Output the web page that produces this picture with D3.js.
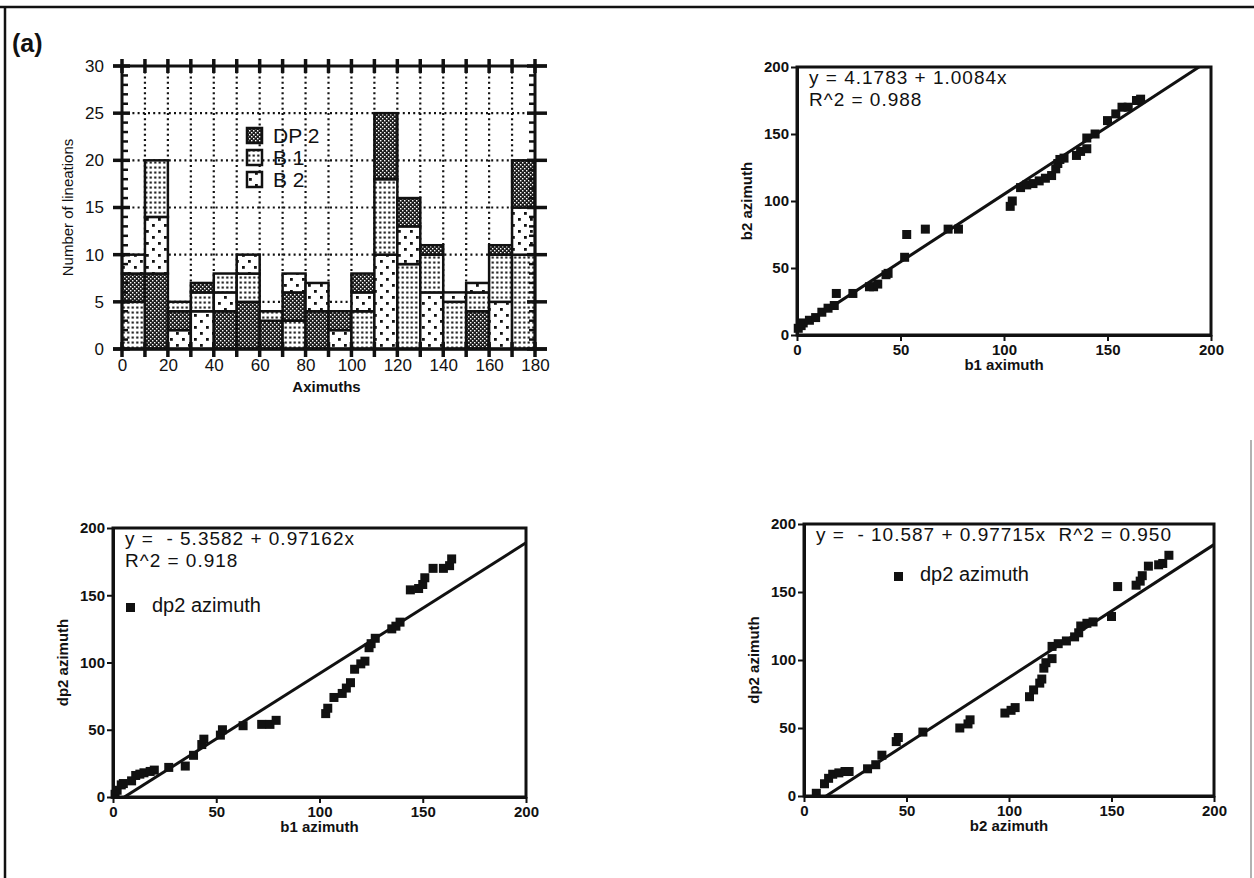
<!DOCTYPE html>
<html>
<head>
<meta charset="utf-8">
<script src="https://cdn.jsdelivr.net/npm/d3@7"></script>
<style>
  body { margin: 0; background: #fff; }
  svg { display: block; }
  text { font-family: "Liberation Sans", Arial, Helvetica, sans-serif; fill: #111; }
</style>
</head>
<body>
<svg id="fig" width="1254" height="878"></svg>
<script>
// ---- Histogram: lineation counts per 10-degree azimuth bin ----
const binStarts = [0, 10, 20, 30, 40, 50, 60, 70, 80, 90, 100, 110, 120, 130, 140, 150, 160, 170];
const dp2Counts = [3, 8, 2, 1, 4, 5, 3, 3, 4, 2, 2, 7, 3, 1, 0, 4, 1, 5];
const b1Counts  = [5, 6, 1, 2, 2, 3, 1, 3, 0, 0, 4, 8, 9, 4, 5, 2, 5, 10];
const b2Counts  = [2, 6, 2, 4, 2, 2, 0, 2, 3, 2, 2, 10, 4, 6, 1, 1, 5, 5];
const seriesNames = ["DP 2", "B 1", "B 2"];
const histXTicks = [0, 20, 40, 60, 80, 100, 120, 140, 160, 180];
const histYTicks = [0, 5, 10, 15, 20, 25, 30];

// ---- Scatter data: paired azimuths ----
const b1VsB2 = [[0.6,5],[2,7],[3,9],[6,11],[9,13],[12,17],[15,20],[18,22],[19,31],[27,31],[35,36],[37,36],[39,38],[43,45],[44,46],[52,58],[53,75],[62,79],[73,79],[78,79],[103,96],[104,100],[108,110],[111,112],[114,113],[117,115],[120,117],[123,119],[125,124],[126,128],[127,131],[129,132],[135,134],[137,137],[140,139],[140,147],[144,150],[150,160],[154,165],[157,170],[160,170],[164,175],[166,176]];
const b1VsDp2 = [[1,2],[2,5],[4,9],[5,10],[9,12],[11,16],[13,17],[15,18],[18,19],[20,20],[27,22],[35,23],[39,31],[43,39],[44,43],[52,46],[53,50],[63,53],[72,54],[76,54],[79,57],[103,62],[104,66],[107,74],[111,77],[113,81],[115,85],[117,95],[120,99],[122,101],[124,111],[125,114],[127,118],[135,125],[137,127],[139,130],[144,154],[148,155],[150,158],[151,163],[155,170],[160,170],[163,172],[164,177]];
const b2VsDp2 = [[6,2],[10,9],[12,13],[14,16],[17,17],[20,18],[22,18],[31,20],[35,23],[38,30],[45,40],[46,43],[58,47],[76,50],[80,53],[81,56],[98,61],[101,63],[103,65],[110,73],[112,78],[115,83],[116,86],[117,94],[118,98],[121,101],[121,110],[124,112],[128,114],[132,117],[134,120],[135,125],[138,127],[141,128],[150,132],[153,154],[162,155],[164,158],[165,162],[168,169],[173,170],[175,171],[178,177]];
const fitB1B2 = { a: 4.1783, b: 1.0084, r2: "0.988" };
const fitB1Dp2 = { a: -5.3582, b: 0.97162, r2: "0.918" };
const fitB2Dp2 = { a: -10.587, b: 0.97715, r2: "0.950" };
const scatterTicks = [0, 50, 100, 150, 200];

const svg = d3.select("#fig");
const defs = svg.append("defs");

// Fill patterns for the three series
const pDP = defs.append("pattern").attr("id", "pat-dp2").attr("patternUnits", "userSpaceOnUse").attr("width", 4).attr("height", 4);
pDP.append("rect").attr("width", 4).attr("height", 4).attr("fill", "#1c1c1c");
pDP.append("rect").attr("x", 0).attr("y", 0).attr("width", 1.4).attr("height", 1.4).attr("fill", "#fff");
pDP.append("rect").attr("x", 2).attr("y", 2).attr("width", 1.4).attr("height", 1.4).attr("fill", "#fff");

const pB1 = defs.append("pattern").attr("id", "pat-b1").attr("patternUnits", "userSpaceOnUse").attr("width", 4.5).attr("height", 5);
pB1.append("rect").attr("width", 4.5).attr("height", 5).attr("fill", "#fff");
pB1.append("rect").attr("x", 1.2).attr("y", 1.5).attr("width", 2.1).attr("height", 2.1).attr("fill", "#111");

const pB2 = defs.append("pattern").attr("id", "pat-b2").attr("patternUnits", "userSpaceOnUse").attr("width", 12).attr("height", 12);
pB2.append("rect").attr("width", 12).attr("height", 12).attr("fill", "#fff");
pB2.append("rect").attr("x", 2).attr("y", 2).attr("width", 2.8).attr("height", 2.8).attr("fill", "#111");
pB2.append("rect").attr("x", 8).attr("y", 8).attr("width", 2.8).attr("height", 2.8).attr("fill", "#111");

const fills = { "DP 2": "url(#pat-dp2)", "B 1": "url(#pat-b1)", "B 2": "url(#pat-b2)" };

// Outer figure border
svg.append("line").attr("x1", 0).attr("x2", 1254).attr("y1", 7).attr("y2", 7).attr("stroke", "#111").attr("stroke-width", 2.5);
svg.append("line").attr("x1", 5).attr("x2", 5).attr("y1", 6).attr("y2", 878).attr("stroke", "#111").attr("stroke-width", 2.5);
svg.append("line").attr("x1", 1251).attr("x2", 1251).attr("y1", 440).attr("y2", 878).attr("stroke", "#999").attr("stroke-width", 1.5);

svg.append("text").attr("x", 12).attr("y", 52).attr("font-size", 25).attr("font-weight", "bold").text("(a)");

// ---------------- Histogram ----------------
(function drawHistogram() {
  const x = d3.scaleLinear().domain([0, 180]).range([122, 535]);
  const y = d3.scaleLinear().domain([0, 30]).range([349, 66]);
  const g = svg.append("g");

  // dotted grid
  const grid = g.append("g").attr("stroke", "#111").attr("stroke-width", 2.2).attr("stroke-dasharray", "2,3.2");
  d3.range(10, 180, 10).forEach(v => grid.append("line").attr("x1", x(v)).attr("x2", x(v)).attr("y1", y(0)).attr("y2", y(30)));
  [5, 10, 15, 20, 25].forEach(v => grid.append("line").attr("x1", x(0)).attr("x2", x(180)).attr("y1", y(v)).attr("y2", y(v)));

  // stacked bars: larger counts at the bottom, ties ordered B 2, B 1, DP 2
  const priority = { "B 2": 0, "B 1": 1, "DP 2": 2 };
  const segs = [];
  binStarts.forEach((s, i) => {
    const vals = [
      { name: "DP 2", v: dp2Counts[i] },
      { name: "B 1", v: b1Counts[i] },
      { name: "B 2", v: b2Counts[i] }
    ].filter(d => d.v > 0).sort((a, b) => (b.v - a.v) || (priority[a.name] - priority[b.name]));
    let base = 0;
    vals.forEach(d => { segs.push({ s, y0: base, y1: base + d.v, name: d.name }); base += d.v; });
  });
  g.append("g").selectAll("rect").data(segs).join("rect")
    .attr("x", d => x(d.s)).attr("width", d => x(d.s + 10) - x(d.s))
    .attr("y", d => y(d.y1)).attr("height", d => y(d.y0) - y(d.y1))
    .attr("fill", d => fills[d.name]).attr("stroke", "#111").attr("stroke-width", 2.5);

  // frame lines and crossing ticks
  const fr = g.append("g").attr("stroke", "#111");
  fr.append("line").attr("x1", 113).attr("x2", 547).attr("y1", y(0)).attr("y2", y(0)).attr("stroke-width", 3.5);
  fr.append("line").attr("x1", 113).attr("x2", 547).attr("y1", y(30)).attr("y2", y(30)).attr("stroke-width", 3);
  fr.append("line").attr("x1", x(0)).attr("x2", x(0)).attr("y1", y(0)).attr("y2", y(30)).attr("stroke-width", 3);
  fr.append("line").attr("x1", x(180)).attr("x2", x(180)).attr("y1", y(0)).attr("y2", y(30)).attr("stroke-width", 3);
  d3.range(0, 181, 10).forEach(v => {
    fr.append("line").attr("x1", x(v)).attr("x2", x(v)).attr("y1", y(0) - 7).attr("y2", y(0) + 8).attr("stroke-width", 3.5);
    fr.append("line").attr("x1", x(v)).attr("x2", x(v)).attr("y1", y(30) - 7).attr("y2", y(30) + 7).attr("stroke-width", 3.5);
  });
  d3.range(0, 31, 5).forEach(v => {
    fr.append("line").attr("x1", 113).attr("x2", x(0) + 8).attr("y1", y(v)).attr("y2", y(v)).attr("stroke-width", 3.5);
    fr.append("line").attr("x1", x(180) - 8).attr("x2", 547).attr("y1", y(v)).attr("y2", y(v)).attr("stroke-width", 3.5);
  });
  d3.range(0, 31, 1).filter(v => v % 5 !== 0).forEach(v => {
    fr.append("line").attr("x1", x(0)).attr("x2", x(0) + 6).attr("y1", y(v)).attr("y2", y(v)).attr("stroke-width", 2.5);
    fr.append("line").attr("x1", x(180) - 6).attr("x2", x(180)).attr("y1", y(v)).attr("y2", y(v)).attr("stroke-width", 2.5);
  });

  // tick labels through d3 axes
  const ax = g.append("g").attr("transform", `translate(0,${y(0) + 6})`)
    .call(d3.axisBottom(x).tickValues(histXTicks).tickSize(0).tickPadding(4));
  ax.select(".domain").remove();
  ax.selectAll("text").attr("font-size", 17).attr("font-family", "Liberation Sans, Arial, sans-serif").attr("fill", "#111");
  const ay = g.append("g").attr("transform", `translate(${x(0) - 10},0)`)
    .call(d3.axisLeft(y).tickValues(histYTicks).tickSize(0).tickPadding(8));
  ay.select(".domain").remove();
  ay.selectAll("text").attr("font-size", 17).attr("font-family", "Liberation Sans, Arial, sans-serif").attr("fill", "#111");

  g.append("text").attr("x", (x(0) + x(180)) / 2 - 2).attr("y", 392).attr("text-anchor", "middle")
    .attr("font-size", 15).attr("font-weight", "bold").text("Aximuths");
  g.append("text").attr("transform", `translate(73,${y(15)}) rotate(-90)`).attr("text-anchor", "middle")
    .attr("font-size", 15).text("Number of lineations");

  // legend
  const lg = g.append("g").attr("transform", "translate(247,128)");
  seriesNames.forEach((n, i) => {
    lg.append("rect").attr("x", 0).attr("y", i * 22).attr("width", 15).attr("height", 15)
      .attr("fill", fills[n]).attr("stroke", "#111").attr("stroke-width", 2.5);
    lg.append("text").attr("x", 26).attr("y", i * 22 + 15).attr("font-size", 21).text(n);
  });
})();

// ---------------- Scatter plots ----------------
function scatter(cfg) {
  const x = d3.scaleLinear().domain([0, 200]).range([cfg.left, cfg.right]);
  const y = d3.scaleLinear().domain([0, 200]).range([cfg.bottom, cfg.top]);
  const g = svg.append("g");
  const clipId = "clip-" + cfg.id;
  defs.append("clipPath").attr("id", clipId).append("rect")
    .attr("x", cfg.left).attr("y", cfg.top).attr("width", cfg.right - cfg.left).attr("height", cfg.bottom - cfg.top);

  // fitted line
  const x0 = Math.max(0, -cfg.fit.a / cfg.fit.b);
  g.append("line").attr("clip-path", `url(#${clipId})`)
    .attr("x1", x(x0)).attr("y1", y(cfg.fit.a + cfg.fit.b * x0))
    .attr("x2", x(200)).attr("y2", y(cfg.fit.a + cfg.fit.b * 200))
    .attr("stroke", "#111").attr("stroke-width", 3);

  // points
  g.append("g").selectAll("rect").data(cfg.data).join("rect")
    .attr("x", d => x(d[0]) - 4.5).attr("y", d => y(d[1]) - 4.5)
    .attr("width", 9).attr("height", 9).attr("fill", "#111");

  // frame
  g.append("rect").attr("x", cfg.left).attr("y", cfg.top).attr("width", cfg.right - cfg.left).attr("height", cfg.bottom - cfg.top)
    .attr("fill", "none").attr("stroke", "#111").attr("stroke-width", 3);

  const ax = g.append("g").attr("transform", `translate(0,${cfg.bottom})`)
    .call(d3.axisBottom(x).tickValues(scatterTicks).tickSizeInner(6).tickSizeOuter(0).tickPadding(3));
  const ay = g.append("g").attr("transform", `translate(${cfg.left},0)`)
    .call(d3.axisLeft(y).tickValues(scatterTicks).tickSizeInner(6).tickSizeOuter(0).tickPadding(2));
  [ax, ay].forEach(a => {
    a.select(".domain").attr("stroke", "#111").attr("stroke-width", 3);
    a.selectAll(".tick line").attr("stroke", "#111").attr("stroke-width", 2);
    a.selectAll("text").attr("font-size", 15).attr("font-weight", "bold")
      .attr("font-family", "Liberation Sans, Arial, sans-serif").attr("fill", "#111");
  });

  g.append("text").attr("x", (cfg.left + cfg.right) / 2).attr("y", cfg.bottom + 35).attr("text-anchor", "middle")
    .attr("font-size", 15).attr("font-weight", "bold").text(cfg.xTitle);
  g.append("text").attr("transform", `translate(${cfg.left - 45},${(cfg.top + cfg.bottom) / 2}) rotate(-90)`)
    .attr("text-anchor", "middle").attr("font-size", 15).attr("font-weight", "bold").text(cfg.yTitle);

  // regression equation block
  cfg.eqLines.forEach((t, i) => {
    g.append("text").attr("x", cfg.left + 12).attr("y", cfg.top + 17 + i * 22).attr("font-size", 19)
      .attr("letter-spacing", 1).attr("xml:space", "preserve").style("white-space", "pre").text(t);
  });
  if (cfg.legend) {
    g.append("rect").attr("x", cfg.legend.x).attr("y", cfg.legend.y - 8).attr("width", 9).attr("height", 9).attr("fill", "#111");
    g.append("text").attr("x", cfg.legend.x + 26).attr("y", cfg.legend.y + 1).attr("font-size", 20).text("dp2 azimuth");
  }
}

const fmtFit = f => "y = " + (f.a < 0 ? " - " + Math.abs(f.a) : f.a) + " + " + f.b + "x";

scatter({ id: "b1b2", left: 797, right: 1211, top: 67, bottom: 335, data: b1VsB2, fit: fitB1B2,
  xTitle: "b1 aximuth", yTitle: "b2 azimuth", eqLines: [fmtFit(fitB1B2), "R^2 = " + fitB1B2.r2] });
scatter({ id: "b1dp2", left: 113, right: 526, top: 528, bottom: 797, data: b1VsDp2, fit: fitB1Dp2,
  xTitle: "b1 azimuth", yTitle: "dp2 azimuth", eqLines: [fmtFit(fitB1Dp2), "R^2 = " + fitB1Dp2.r2],
  legend: { x: 126, y: 611 } });
scatter({ id: "b2dp2", left: 804, right: 1214, top: 524, bottom: 796, data: b2VsDp2, fit: fitB2Dp2,
  xTitle: "b2 azimuth", yTitle: "dp2 azimuth", eqLines: [fmtFit(fitB2Dp2) + "  R^2 = " + fitB2Dp2.r2],
  legend: { x: 894, y: 580 } });
</script>
</body>
</html>
